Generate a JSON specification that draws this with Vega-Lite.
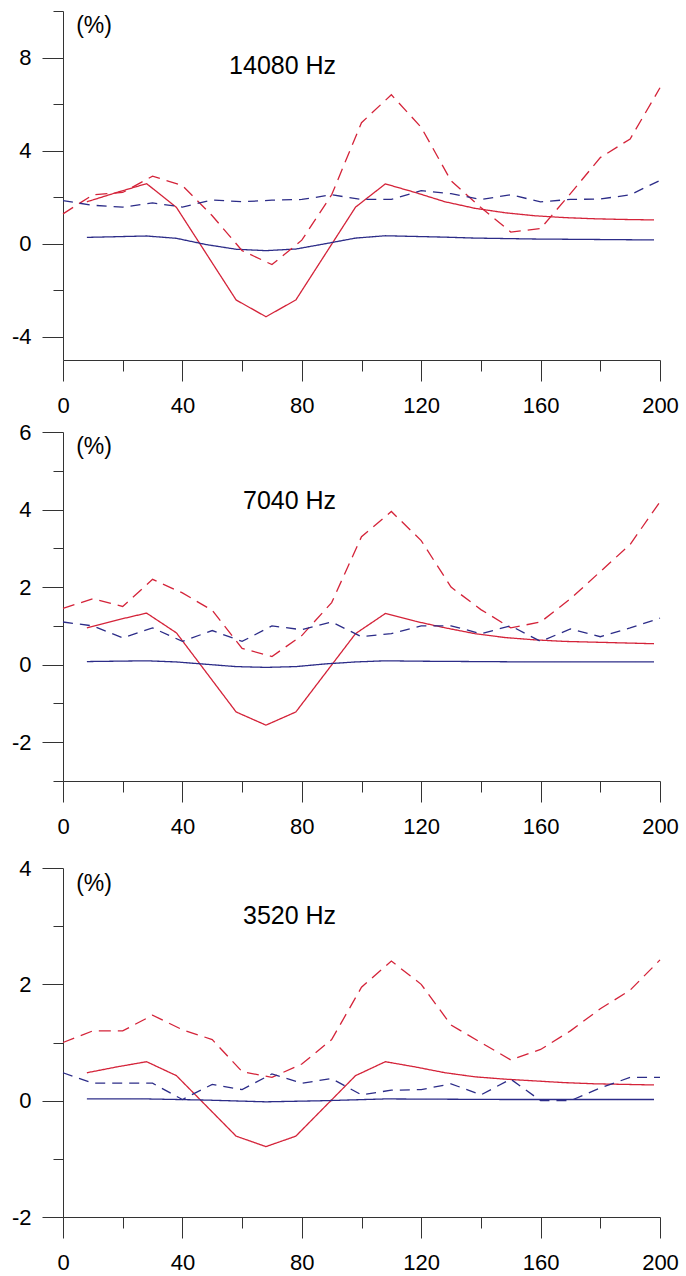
{
  "$schema": "https://vega.github.io/schema/vega-lite/v6.json",
  "padding": {"left": 11, "top": 10, "right": 0, "bottom": 0},
  "background": "white",
  "spacing": 5,
  "config": {
    "view": {"stroke": null},
    "axis": {"grid": false, "title": null, "domainColor": "#333", "tickColor": "#333", "domainWidth": 1, "tickWidth": 1, "labelFont": "Liberation Sans", "labelFontSize": 22, "labelColor": "#000", "labelOverlap": false, "labelBound": false},
    "axisX": {"labelPadding": 14, "labelFlush": false},
    "axisY": {"labelPadding": 11, "labelBaseline": "middle"},
    "line": {"strokeWidth": 1.3},
    "text": {"font": "Liberation Sans", "color": "#000", "baseline": "middle"}
  },
  "datasets": {
    "lines": [
      {"p":1,"s":"rs","x":8,"y":1.8},{"p":1,"s":"rs","x":18,"y":2.2},{"p":1,"s":"rs","x":28,"y":2.58},{"p":1,"s":"rs","x":38,"y":1.56},{"p":1,"s":"rs","x":58,"y":-2.42},{"p":1,"s":"rs","x":68,"y":-3.14},{"p":1,"s":"rs","x":78,"y":-2.42},{"p":1,"s":"rs","x":98,"y":1.57},{"p":1,"s":"rs","x":108,"y":2.57},{"p":1,"s":"rs","x":118,"y":2.2},{"p":1,"s":"rs","x":128,"y":1.8},{"p":1,"s":"rs","x":138,"y":1.52},{"p":1,"s":"rs","x":148,"y":1.33},{"p":1,"s":"rs","x":158,"y":1.2},{"p":1,"s":"rs","x":168,"y":1.12},{"p":1,"s":"rs","x":178,"y":1.07},{"p":1,"s":"rs","x":188,"y":1.04},{"p":1,"s":"rs","x":198,"y":1.02},
      {"p":1,"s":"bs","x":8,"y":0.27},{"p":1,"s":"bs","x":18,"y":0.3},{"p":1,"s":"bs","x":28,"y":0.33},{"p":1,"s":"bs","x":38,"y":0.23},{"p":1,"s":"bs","x":48,"y":-0.04},{"p":1,"s":"bs","x":58,"y":-0.24},{"p":1,"s":"bs","x":68,"y":-0.3},{"p":1,"s":"bs","x":78,"y":-0.23},{"p":1,"s":"bs","x":88,"y":0.0},{"p":1,"s":"bs","x":98,"y":0.24},{"p":1,"s":"bs","x":108,"y":0.34},{"p":1,"s":"bs","x":118,"y":0.31},{"p":1,"s":"bs","x":128,"y":0.28},{"p":1,"s":"bs","x":138,"y":0.24},{"p":1,"s":"bs","x":148,"y":0.22},{"p":1,"s":"bs","x":158,"y":0.2},{"p":1,"s":"bs","x":168,"y":0.19},{"p":1,"s":"bs","x":178,"y":0.18},{"p":1,"s":"bs","x":188,"y":0.17},{"p":1,"s":"bs","x":198,"y":0.16},
      {"p":1,"s":"rd","x":0,"y":1.28},{"p":1,"s":"rd","x":10,"y":2.1},{"p":1,"s":"rd","x":20,"y":2.2},{"p":1,"s":"rd","x":30,"y":2.9},{"p":1,"s":"rd","x":40,"y":2.5},{"p":1,"s":"rd","x":50,"y":1.2},{"p":1,"s":"rd","x":60,"y":-0.3},{"p":1,"s":"rd","x":70,"y":-0.9},{"p":1,"s":"rd","x":80,"y":0.15},{"p":1,"s":"rd","x":90,"y":2.1},{"p":1,"s":"rd","x":100,"y":5.2},{"p":1,"s":"rd","x":110,"y":6.4},{"p":1,"s":"rd","x":120,"y":5.0},{"p":1,"s":"rd","x":130,"y":2.7},{"p":1,"s":"rd","x":140,"y":1.55},{"p":1,"s":"rd","x":150,"y":0.5},{"p":1,"s":"rd","x":160,"y":0.65},{"p":1,"s":"rd","x":170,"y":2.15},{"p":1,"s":"rd","x":180,"y":3.7},{"p":1,"s":"rd","x":190,"y":4.5},{"p":1,"s":"rd","x":200,"y":6.7},
      {"p":1,"s":"bd","x":0,"y":1.85},{"p":1,"s":"bd","x":10,"y":1.65},{"p":1,"s":"bd","x":20,"y":1.57},{"p":1,"s":"bd","x":30,"y":1.75},{"p":1,"s":"bd","x":40,"y":1.57},{"p":1,"s":"bd","x":50,"y":1.88},{"p":1,"s":"bd","x":60,"y":1.8},{"p":1,"s":"bd","x":70,"y":1.87},{"p":1,"s":"bd","x":80,"y":1.9},{"p":1,"s":"bd","x":90,"y":2.1},{"p":1,"s":"bd","x":100,"y":1.9},{"p":1,"s":"bd","x":110,"y":1.9},{"p":1,"s":"bd","x":120,"y":2.28},{"p":1,"s":"bd","x":130,"y":2.15},{"p":1,"s":"bd","x":140,"y":1.9},{"p":1,"s":"bd","x":150,"y":2.1},{"p":1,"s":"bd","x":160,"y":1.8},{"p":1,"s":"bd","x":170,"y":1.9},{"p":1,"s":"bd","x":180,"y":1.92},{"p":1,"s":"bd","x":190,"y":2.1},{"p":1,"s":"bd","x":200,"y":2.72},

      {"p":2,"s":"rs","x":8,"y":0.95},{"p":2,"s":"rs","x":18,"y":1.15},{"p":2,"s":"rs","x":28,"y":1.33},{"p":2,"s":"rs","x":38,"y":0.82},{"p":2,"s":"rs","x":58,"y":-1.22},{"p":2,"s":"rs","x":68,"y":-1.56},{"p":2,"s":"rs","x":78,"y":-1.22},{"p":2,"s":"rs","x":98,"y":0.8},{"p":2,"s":"rs","x":108,"y":1.32},{"p":2,"s":"rs","x":118,"y":1.12},{"p":2,"s":"rs","x":128,"y":0.95},{"p":2,"s":"rs","x":138,"y":0.8},{"p":2,"s":"rs","x":148,"y":0.7},{"p":2,"s":"rs","x":158,"y":0.64},{"p":2,"s":"rs","x":168,"y":0.6},{"p":2,"s":"rs","x":178,"y":0.58},{"p":2,"s":"rs","x":188,"y":0.56},{"p":2,"s":"rs","x":198,"y":0.54},
      {"p":2,"s":"bs","x":8,"y":0.08},{"p":2,"s":"bs","x":18,"y":0.09},{"p":2,"s":"bs","x":28,"y":0.1},{"p":2,"s":"bs","x":38,"y":0.07},{"p":2,"s":"bs","x":48,"y":0.01},{"p":2,"s":"bs","x":58,"y":-0.05},{"p":2,"s":"bs","x":68,"y":-0.07},{"p":2,"s":"bs","x":78,"y":-0.05},{"p":2,"s":"bs","x":88,"y":0.02},{"p":2,"s":"bs","x":98,"y":0.07},{"p":2,"s":"bs","x":108,"y":0.1},{"p":2,"s":"bs","x":118,"y":0.09},{"p":2,"s":"bs","x":138,"y":0.08},{"p":2,"s":"bs","x":158,"y":0.07},{"p":2,"s":"bs","x":178,"y":0.07},{"p":2,"s":"bs","x":198,"y":0.07},
      {"p":2,"s":"rd","x":0,"y":1.45},{"p":2,"s":"rd","x":10,"y":1.7},{"p":2,"s":"rd","x":20,"y":1.5},{"p":2,"s":"rd","x":30,"y":2.2},{"p":2,"s":"rd","x":40,"y":1.85},{"p":2,"s":"rd","x":50,"y":1.4},{"p":2,"s":"rd","x":60,"y":0.42},{"p":2,"s":"rd","x":70,"y":0.21},{"p":2,"s":"rd","x":80,"y":0.75},{"p":2,"s":"rd","x":90,"y":1.6},{"p":2,"s":"rd","x":100,"y":3.3},{"p":2,"s":"rd","x":110,"y":3.95},{"p":2,"s":"rd","x":120,"y":3.2},{"p":2,"s":"rd","x":130,"y":2.0},{"p":2,"s":"rd","x":140,"y":1.42},{"p":2,"s":"rd","x":150,"y":0.95},{"p":2,"s":"rd","x":160,"y":1.1},{"p":2,"s":"rd","x":170,"y":1.7},{"p":2,"s":"rd","x":180,"y":2.4},{"p":2,"s":"rd","x":190,"y":3.1},{"p":2,"s":"rd","x":200,"y":4.2},
      {"p":2,"s":"bd","x":0,"y":1.1},{"p":2,"s":"bd","x":10,"y":1.0},{"p":2,"s":"bd","x":20,"y":0.69},{"p":2,"s":"bd","x":30,"y":0.95},{"p":2,"s":"bd","x":40,"y":0.6},{"p":2,"s":"bd","x":50,"y":0.88},{"p":2,"s":"bd","x":60,"y":0.6},{"p":2,"s":"bd","x":70,"y":1.0},{"p":2,"s":"bd","x":80,"y":0.9},{"p":2,"s":"bd","x":90,"y":1.1},{"p":2,"s":"bd","x":100,"y":0.72},{"p":2,"s":"bd","x":110,"y":0.8},{"p":2,"s":"bd","x":120,"y":1.0},{"p":2,"s":"bd","x":130,"y":1.0},{"p":2,"s":"bd","x":140,"y":0.8},{"p":2,"s":"bd","x":150,"y":1.0},{"p":2,"s":"bd","x":160,"y":0.6},{"p":2,"s":"bd","x":170,"y":0.92},{"p":2,"s":"bd","x":180,"y":0.72},{"p":2,"s":"bd","x":190,"y":0.95},{"p":2,"s":"bd","x":200,"y":1.2},

      {"p":3,"s":"rs","x":8,"y":0.48},{"p":3,"s":"rs","x":18,"y":0.58},{"p":3,"s":"rs","x":28,"y":0.67},{"p":3,"s":"rs","x":38,"y":0.43},{"p":3,"s":"rs","x":58,"y":-0.61},{"p":3,"s":"rs","x":68,"y":-0.79},{"p":3,"s":"rs","x":78,"y":-0.61},{"p":3,"s":"rs","x":98,"y":0.43},{"p":3,"s":"rs","x":108,"y":0.67},{"p":3,"s":"rs","x":118,"y":0.58},{"p":3,"s":"rs","x":128,"y":0.48},{"p":3,"s":"rs","x":138,"y":0.41},{"p":3,"s":"rs","x":148,"y":0.37},{"p":3,"s":"rs","x":158,"y":0.34},{"p":3,"s":"rs","x":168,"y":0.31},{"p":3,"s":"rs","x":178,"y":0.29},{"p":3,"s":"rs","x":188,"y":0.28},{"p":3,"s":"rs","x":198,"y":0.27},
      {"p":3,"s":"bs","x":8,"y":0.03},{"p":3,"s":"bs","x":28,"y":0.03},{"p":3,"s":"bs","x":48,"y":0.01},{"p":3,"s":"bs","x":68,"y":-0.02},{"p":3,"s":"bs","x":88,"y":0.0},{"p":3,"s":"bs","x":108,"y":0.03},{"p":3,"s":"bs","x":148,"y":0.02},{"p":3,"s":"bs","x":198,"y":0.02},
      {"p":3,"s":"rd","x":0,"y":1.0},{"p":3,"s":"rd","x":10,"y":1.2},{"p":3,"s":"rd","x":20,"y":1.2},{"p":3,"s":"rd","x":30,"y":1.47},{"p":3,"s":"rd","x":40,"y":1.22},{"p":3,"s":"rd","x":50,"y":1.05},{"p":3,"s":"rd","x":60,"y":0.5},{"p":3,"s":"rd","x":70,"y":0.4},{"p":3,"s":"rd","x":80,"y":0.63},{"p":3,"s":"rd","x":90,"y":1.05},{"p":3,"s":"rd","x":100,"y":1.95},{"p":3,"s":"rd","x":110,"y":2.4},{"p":3,"s":"rd","x":120,"y":2.0},{"p":3,"s":"rd","x":130,"y":1.3},{"p":3,"s":"rd","x":140,"y":1.0},{"p":3,"s":"rd","x":150,"y":0.7},{"p":3,"s":"rd","x":160,"y":0.88},{"p":3,"s":"rd","x":170,"y":1.2},{"p":3,"s":"rd","x":180,"y":1.58},{"p":3,"s":"rd","x":190,"y":1.9},{"p":3,"s":"rd","x":200,"y":2.42},
      {"p":3,"s":"bd","x":0,"y":0.48},{"p":3,"s":"bd","x":10,"y":0.3},{"p":3,"s":"bd","x":20,"y":0.3},{"p":3,"s":"bd","x":30,"y":0.3},{"p":3,"s":"bd","x":40,"y":0.02},{"p":3,"s":"bd","x":50,"y":0.28},{"p":3,"s":"bd","x":60,"y":0.19},{"p":3,"s":"bd","x":70,"y":0.46},{"p":3,"s":"bd","x":80,"y":0.3},{"p":3,"s":"bd","x":90,"y":0.38},{"p":3,"s":"bd","x":100,"y":0.1},{"p":3,"s":"bd","x":110,"y":0.18},{"p":3,"s":"bd","x":120,"y":0.19},{"p":3,"s":"bd","x":130,"y":0.29},{"p":3,"s":"bd","x":140,"y":0.1},{"p":3,"s":"bd","x":150,"y":0.37},{"p":3,"s":"bd","x":160,"y":0.0},{"p":3,"s":"bd","x":170,"y":0.0},{"p":3,"s":"bd","x":180,"y":0.22},{"p":3,"s":"bd","x":190,"y":0.4},{"p":3,"s":"bd","x":200,"y":0.4}
    ],
    "notes": [
      {"p":1,"k":"u","x":4.4,"y":9.36,"t":"(%)"},
      {"p":1,"k":"f","x":91.5,"y":7.65,"t":"14080 Hz"},
      {"p":2,"k":"u","x":4.4,"y":5.61,"t":"(%)"},
      {"p":2,"k":"f","x":91.5,"y":4.23,"t":"7040 Hz"},
      {"p":3,"k":"u","x":4.4,"y":3.73,"t":"(%)"},
      {"p":3,"k":"f","x":91.5,"y":3.18,"t":"3520 Hz"}
    ]
  },
  "vconcat": [
    {
      "width": 597, "height": 349,
      "resolve": {"scale": {"x": "independent", "y": "independent"}, "axis": {"x": "independent", "y": "independent"}},
      "layer": [
        {
          "data": {"name": "lines"},
          "transform": [{"filter": "datum.p === 1"}],
          "mark": {"type": "line"},
          "encoding": {
            "x": {"field": "x", "type": "quantitative", "scale": {"domain": [0, 200], "nice": false}, "axis": {"orient": "bottom", "values": [0,40,80,120,160,200], "tickSize": 21, "labelExpr": "'' + datum.value"}},
            "y": {"field": "y", "type": "quantitative", "scale": {"domain": [-5, 10], "nice": false, "zero": false}, "axis": {"orient": "left", "values": [-4,0,4,8], "tickSize": 21, "labelExpr": "'' + datum.value"}},
            "color": {"field": "s", "type": "nominal", "scale": {"domain": ["rs","rd","bs","bd"], "range": ["#d42339","#d42339","#2c2c88","#2c2c88"]}, "legend": null},
            "strokeDash": {"field": "s", "type": "nominal", "scale": {"domain": ["rs","rd","bs","bd"], "range": [[1,0],[12,7],[1,0],[10,7]]}, "legend": null}
          }
        },
        {
          "data": {"name": "notes"},
          "transform": [{"filter": "datum.p === 1 && datum.k === 'u'"}],
          "mark": {"type": "text", "fontSize": 23, "align": "left"},
          "encoding": {
            "x": {"field": "x", "type": "quantitative", "scale": {"domain": [0, 200], "nice": false}, "axis": {"orient": "bottom", "values": [20,60,100,140,180], "tickSize": 11, "labels": false, "domain": false}},
            "y": {"field": "y", "type": "quantitative", "scale": {"domain": [-5, 10], "nice": false, "zero": false}, "axis": {"orient": "left", "values": [-2,2,6,10], "tickSize": 10, "labels": false, "domain": false}},
            "text": {"field": "t"}
          }
        },
        {
          "data": {"name": "notes"},
          "transform": [{"filter": "datum.p === 1 && datum.k === 'f'"}],
          "mark": {"type": "text", "fontSize": 25, "align": "right"},
          "encoding": {
            "x": {"field": "x", "type": "quantitative", "scale": {"domain": [0, 200], "nice": false}, "axis": null},
            "y": {"field": "y", "type": "quantitative", "scale": {"domain": [-5, 10], "nice": false, "zero": false}, "axis": null},
            "text": {"field": "t"}
          }
        }
      ]
    },
    {
      "width": 597, "height": 349,
      "resolve": {"scale": {"x": "independent", "y": "independent"}, "axis": {"x": "independent", "y": "independent"}},
      "layer": [
        {
          "data": {"name": "lines"},
          "transform": [{"filter": "datum.p === 2"}],
          "mark": {"type": "line"},
          "encoding": {
            "x": {"field": "x", "type": "quantitative", "scale": {"domain": [0, 200], "nice": false}, "axis": {"orient": "bottom", "values": [0,40,80,120,160,200], "tickSize": 21, "labelExpr": "'' + datum.value"}},
            "y": {"field": "y", "type": "quantitative", "scale": {"domain": [-3, 6], "nice": false, "zero": false}, "axis": {"orient": "left", "values": [-2,0,2,4,6], "tickSize": 21, "labelExpr": "'' + datum.value"}},
            "color": {"field": "s", "type": "nominal", "scale": {"domain": ["rs","rd","bs","bd"], "range": ["#d42339","#d42339","#2c2c88","#2c2c88"]}, "legend": null},
            "strokeDash": {"field": "s", "type": "nominal", "scale": {"domain": ["rs","rd","bs","bd"], "range": [[1,0],[12,7],[1,0],[10,7]]}, "legend": null}
          }
        },
        {
          "data": {"name": "notes"},
          "transform": [{"filter": "datum.p === 2 && datum.k === 'u'"}],
          "mark": {"type": "text", "fontSize": 23, "align": "left"},
          "encoding": {
            "x": {"field": "x", "type": "quantitative", "scale": {"domain": [0, 200], "nice": false}, "axis": {"orient": "bottom", "values": [20,60,100,140,180], "tickSize": 11, "labels": false, "domain": false}},
            "y": {"field": "y", "type": "quantitative", "scale": {"domain": [-3, 6], "nice": false, "zero": false}, "axis": {"orient": "left", "values": [-3,-1,1,3,5], "tickSize": 10, "labels": false, "domain": false}},
            "text": {"field": "t"}
          }
        },
        {
          "data": {"name": "notes"},
          "transform": [{"filter": "datum.p === 2 && datum.k === 'f'"}],
          "mark": {"type": "text", "fontSize": 25, "align": "right"},
          "encoding": {
            "x": {"field": "x", "type": "quantitative", "scale": {"domain": [0, 200], "nice": false}, "axis": null},
            "y": {"field": "y", "type": "quantitative", "scale": {"domain": [-3, 6], "nice": false, "zero": false}, "axis": null},
            "text": {"field": "t"}
          }
        }
      ]
    },
    {
      "width": 597, "height": 349,
      "title": {"text": " ", "fontSize": 15, "offset": 0},
      "resolve": {"scale": {"x": "independent", "y": "independent"}, "axis": {"x": "independent", "y": "independent"}},
      "layer": [
        {
          "data": {"name": "lines"},
          "transform": [{"filter": "datum.p === 3"}],
          "mark": {"type": "line"},
          "encoding": {
            "x": {"field": "x", "type": "quantitative", "scale": {"domain": [0, 200], "nice": false}, "axis": {"orient": "bottom", "values": [0,40,80,120,160,200], "tickSize": 21, "labelExpr": "'' + datum.value"}},
            "y": {"field": "y", "type": "quantitative", "scale": {"domain": [-2, 4], "nice": false, "zero": false}, "axis": {"orient": "left", "values": [-2,0,2,4], "tickSize": 21, "labelExpr": "'' + datum.value"}},
            "color": {"field": "s", "type": "nominal", "scale": {"domain": ["rs","rd","bs","bd"], "range": ["#d42339","#d42339","#2c2c88","#2c2c88"]}, "legend": null},
            "strokeDash": {"field": "s", "type": "nominal", "scale": {"domain": ["rs","rd","bs","bd"], "range": [[1,0],[12,7],[1,0],[10,7]]}, "legend": null}
          }
        },
        {
          "data": {"name": "notes"},
          "transform": [{"filter": "datum.p === 3 && datum.k === 'u'"}],
          "mark": {"type": "text", "fontSize": 23, "align": "left"},
          "encoding": {
            "x": {"field": "x", "type": "quantitative", "scale": {"domain": [0, 200], "nice": false}, "axis": {"orient": "bottom", "values": [20,60,100,140,180], "tickSize": 11, "labels": false, "domain": false}},
            "y": {"field": "y", "type": "quantitative", "scale": {"domain": [-2, 4], "nice": false, "zero": false}, "axis": {"orient": "left", "values": [-1,1,3], "tickSize": 10, "labels": false, "domain": false}},
            "text": {"field": "t"}
          }
        },
        {
          "data": {"name": "notes"},
          "transform": [{"filter": "datum.p === 3 && datum.k === 'f'"}],
          "mark": {"type": "text", "fontSize": 25, "align": "right"},
          "encoding": {
            "x": {"field": "x", "type": "quantitative", "scale": {"domain": [0, 200], "nice": false}, "axis": null},
            "y": {"field": "y", "type": "quantitative", "scale": {"domain": [-2, 4], "nice": false, "zero": false}, "axis": null},
            "text": {"field": "t"}
          }
        }
      ]
    }
  ]
}
